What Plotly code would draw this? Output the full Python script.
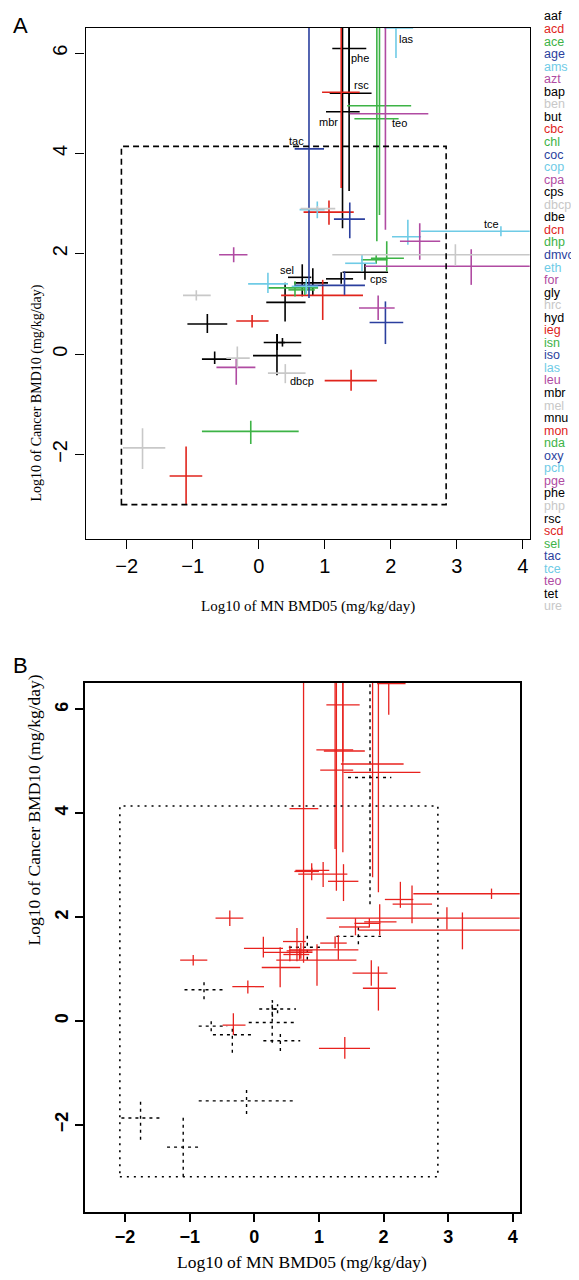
import plotly.graph_objects as go

W, H = 579, 1280

# ---------------- data ----------------
# crosses: centre (x, y), horizontal extent (xlo, xhi), vertical extent (ylo, yhi)
cross_x   = [0.762, 1.37, 1.37, 1.25, 1.27, 1.83, 1.79, 1.92, 2.08, 0.888,
             0.89, 1.065, 1.38, 3.67, 2.26, 2.44, 2.98, 3.22, -0.379, 1.94,
             1.78, 1.565, 1.61, 1.25, 1.30, 0.66, 0.82, 0.55, 0.70, 0.14,
             0.72, 0.97, 0.40, -0.945, -0.778, -0.10, 1.81, 1.92, 0.28, 0.36,
             0.277, -0.667, -0.324, -0.34, 0.403, 1.40, -0.12, -1.76, -1.10]
cross_xlo = [0.545, 1.115, 1.076, 0.96, 1.02, 1.34, 1.45, 1.38, 1.90, 0.62,
             0.636, 0.68, 1.14, 2.46, 2.02, 2.14, 1.115, 1.61, -0.60, 1.70,
             1.55, 1.31, 1.27, 1.02, 0.545, 0.444, 0.535, 0.14, 0.45, -0.16,
             0.50, 0.34, 0.115, -1.147, -1.08, -0.34, 1.52, 1.68, 0.076, 0.30,
             -0.086, -0.86, -0.49, -0.64, 0.14, 1.00, -0.86, -2.056, -1.35]
cross_xhi = [0.99, 1.63, 1.71, 1.53, 1.53, 2.31, 2.12, 2.57, 2.34, 1.00,
             1.16, 1.44, 1.61, 6.0, 2.46, 2.75, 6.0, 6.0, -0.17, 2.20,
             1.95, 1.78, 1.96, 1.43, 1.61, 0.797, 1.05, 0.90, 0.85, 0.444,
             0.90, 1.58, 0.71, -0.727, -0.476, 0.15, 2.06, 2.19, 0.645, 0.40,
             0.645, -0.42, -0.136, -0.05, 0.71, 1.79, 0.606, -1.415, -0.855]
cross_y   = [4.09, 6.09, 5.20, 5.22, 4.83, 4.95, 4.69, 4.79, 6.50, 2.88,
             2.90, 2.83, 2.69, 2.45, 2.34, 2.25, 1.98, 1.75, 1.98, 1.91,
             1.88, 1.81, 1.63, 1.50, 1.37, 1.53, 1.42, 1.32, 1.28, 1.40,
             1.35, 1.17, 1.03, 1.17, 0.60, 0.66, 0.92, 0.63, 0.23, 0.23,
             -0.03, -0.10, -0.08, -0.265, -0.38, -0.53, -1.54, -1.87, -2.43]
cross_ylo = [1.12, 5.00, 3.25, 3.31, 2.51, 2.77, 2.25, 2.48, 5.90, 2.71,
             2.85, 2.58, 2.31, 2.35, 2.18, 1.88, 1.76, 1.38, 1.83, 1.65,
             1.80, 1.65, 1.48, 1.40, 1.18, 1.15, 1.18, 1.15, 1.18, 1.22,
             1.20, 0.68, 0.65, 1.07, 0.42, 0.53, 0.68, 0.20, 0.08, 0.15,
             -0.42, -0.20, -0.27, -0.61, -0.58, -0.73, -1.79, -2.29, -3.00]
cross_yhi = [9.0, 9.0, 9.0, 9.0, 9.0, 9.0, 9.0, 9.0, 9.0, 3.04,
             2.95, 3.06, 3.02, 2.55, 2.68, 2.61, 2.19, 2.09, 2.13, 2.25,
             1.98, 1.98, 1.81, 1.63, 1.65, 1.79, 1.71, 1.45, 1.40, 1.62,
             1.50, 1.48, 1.42, 1.27, 0.80, 0.78, 1.17, 1.05, 0.40, 0.32,
             0.40, 0.05, 0.15, -0.09, -0.20, -0.31, -1.33, -1.48, -1.84]
# palette index of each cross (panel A colour)
cross_col = [3, 0, 0, 1, 0, 2, 2, 5, 4, 4,
             6, 1, 3, 4, 4, 5, 6, 5, 5, 2,
             2, 4, 0, 0, 3, 0, 0, 2, 2, 4,
             4, 1, 0, 6, 0, 1, 5, 3, 0, 0,
             0, 0, 6, 5, 6, 1, 2, 6, 1]
# panel B: 1 = red solid, 0 = black dotted
cross_pos = [1, 1, 1, 1, 1, 1, 0, 1, 1, 1,
             1, 1, 1, 1, 1, 1, 1, 1, 1, 1,
             1, 1, 0, 1, 1, 1, 0, 1, 1, 1,
             1, 1, 1, 1, 0, 1, 1, 1, 0, 0,
             0, 0, 1, 0, 0, 1, 0, 0, 0]

label_text  = ["las", "phe", "rsc", "mbr", "teo", "tac", "tce", "sel", "cps", "dbcp"]
label_cross = [8, 1, 2, 4, 7, 0, 13, 25, 22, 44]

legend_names = ["aaf", "acd", "ace", "age", "ams", "azt", "bap", "ben", "but", "cbc",
                "chl", "coc", "cop", "cpa", "cps", "dbcp", "dbe", "dcn", "dhp", "dmvc",
                "eth", "for", "gly", "hrc", "hyd", "ieg", "isn", "iso", "las", "leu",
                "mbr", "mel", "mnu", "mon", "nda", "oxy", "pch", "pge", "phe", "php",
                "rsc", "scd", "sel", "tac", "tce", "teo", "tet", "ure"]
legend_col = [0, 1, 2, 3, 4, 5, 0, 6, 0, 1,
              2, 3, 4, 5, 0, 6, 0, 1, 2, 3,
              4, 5, 0, 6, 0, 1, 2, 3, 4, 5,
              0, 6, 0, 1, 2, 3, 4, 5, 0, 6,
              0, 1, 2, 3, 4, 5, 0, 6]

x_ticks = [-2, -1, 0, 1, 2, 3, 4]
y_ticks = [-2, 0, 2, 4, 6]
x_range = [-2.624, 4.106]
y_range = [-3.68, 6.51]
box_x = [-2.08, 2.84]
box_y = [-3.0, 4.14]

# ---------------- styles ----------------
palette = ["#000000", "#e0241c", "#3db346", "#2b3f9e", "#6fcbe6", "#b04ba2", "#c8c8c8"]
RED_B = "#e8221e"


def segs(idx):
    xs, ys = [], []
    for i in idx:
        xs += [cross_xlo[i], cross_xhi[i], None, cross_x[i], cross_x[i], None]
        ys += [cross_y[i], cross_y[i], None, cross_ylo[i], cross_yhi[i], None]
    return xs, ys


fig = go.Figure()
# panel A
for c in range(len(palette)):
    idx = [i for i in range(len(cross_x)) if cross_col[i] == c]
    if not idx:
        continue
    xs, ys = segs(idx)
    fig.add_trace(go.Scatter(x=xs, y=ys, mode="lines", xaxis="x", yaxis="y",
                             line=dict(color=palette[c], width=1.6),
                             showlegend=False, hoverinfo="skip"))
# panel B
idx_neg = [i for i in range(len(cross_x)) if cross_pos[i] == 0]
idx_pos = [i for i in range(len(cross_x)) if cross_pos[i] == 1]
xs, ys = segs(idx_neg)
fig.add_trace(go.Scatter(x=xs, y=ys, mode="lines", xaxis="x2", yaxis="y2",
                         line=dict(color="#000000", width=1.4, dash="3px,4px"),
                         showlegend=False, hoverinfo="skip"))
xs, ys = segs(idx_pos)
fig.add_trace(go.Scatter(x=xs, y=ys, mode="lines", xaxis="x2", yaxis="y2",
                         line=dict(color=RED_B, width=1.3),
                         showlegend=False, hoverinfo="skip"))

domA_x = [77.5 / W, 521.7 / W]
domA_y = [1 - 530.7 / H, 1 - 19.5 / H]
domB_x = [76.7 / W, 511.7 / W]
domB_y = [1 - 1204 / H, 1 - 675 / H]

axis_common = dict(showline=True, linecolor="black", mirror=True, ticks="outside",
                   tickcolor="black", showgrid=False, zeroline=False, fixedrange=True)

fig.update_layout(
    width=W, height=H, margin=dict(l=0, r=0, t=0, b=0),
    plot_bgcolor="white", paper_bgcolor="white", showlegend=False,
    xaxis=dict(domain=domA_x, range=x_range, tickvals=x_ticks, ticklen=9, linewidth=1.3,
               tickwidth=1.3, anchor="y",
               tickfont=dict(family="Liberation Sans", size=20, color="black"), **axis_common),
    yaxis=dict(domain=domA_y, range=y_range, tickvals=y_ticks, ticklen=9, linewidth=1.3,
               tickwidth=1.3, anchor="x", tickangle=-90,
               tickfont=dict(family="Liberation Sans", size=20, color="black"), **axis_common),
    xaxis2=dict(domain=domB_x, range=x_range, tickvals=x_ticks, ticklen=8, linewidth=1.7,
                tickwidth=1.7, anchor="y2",
                tickfont=dict(family="Liberation Sans", size=18, color="black", weight="bold"),
                **axis_common),
    yaxis2=dict(domain=domB_y, range=y_range, tickvals=y_ticks, ticklen=8, linewidth=1.7,
                tickwidth=1.7, anchor="x2", tickangle=-90,
                tickfont=dict(family="Liberation Sans", size=18, color="black", weight="bold"),
                **axis_common),
)

# reference rectangles
fig.add_shape(type="rect", xref="x", yref="y", x0=box_x[0], x1=box_x[1], y0=box_y[0], y1=box_y[1],
              line=dict(color="black", width=1.6, dash="6px,4px"))
fig.add_shape(type="rect", xref="x2", yref="y2", x0=box_x[0], x1=box_x[1], y0=box_y[0], y1=box_y[1],
              line=dict(color="black", width=1.6, dash="2px,5px"))

ann = []
# chemical labels in panel A
label_shift = [(11, -11), (11, -9), (12, 8), (-14, -10), (14, -9), (-12, 8), (-9, 7), (-15, 7), (14, -7), (17, -8)]
for t, ci, (dx, dy) in zip(label_text, label_cross, label_shift):
    yv = min(cross_y[ci], y_range[1])
    ann.append(dict(x=cross_x[ci], y=yv, xref="x", yref="y", text=t, showarrow=False,
                    xshift=dx, yshift=dy, font=dict(family="Liberation Sans", size=11, color="black")))

# legend list
for k, (n, c) in enumerate(zip(legend_names, legend_col)):
    ann.append(dict(x=535 / W, y=1 - (8.5 + k * 12.55) / H, xref="paper", yref="paper", text=n,
                    showarrow=False, xanchor="left", yanchor="middle", borderpad=0,
                    font=dict(family="Liberation Sans", size=12.5, color=palette[c])))

# panel letters
ann.append(dict(x=3 / W, y=1 - 3 / H, xref="paper", yref="paper", text="A", showarrow=False,
                xanchor="left", yanchor="top", font=dict(family="Liberation Sans", size=22, color="black")))
ann.append(dict(x=3 / W, y=1 - 643 / H, xref="paper", yref="paper", text="B", showarrow=False,
                xanchor="left", yanchor="top", font=dict(family="Liberation Sans", size=22, color="black")))

# axis titles
ann.append(dict(x=300 / W, y=1 - 598 / H, xref="paper", yref="paper", text="Log10 of MN BMD05 (mg/kg/day)",
                showarrow=False, font=dict(family="Liberation Serif", size=15, color="black")))
ann.append(dict(x=18 / W, y=1 - 275 / H, xref="paper", yref="paper", text="Log10 of Cancer BMD10 (mg/kg/day)",
                showarrow=False, textangle=-90, font=dict(family="Liberation Serif", size=14, color="black")))
ann.append(dict(x=294 / W, y=1 - 1266 / H, xref="paper", yref="paper", text="Log10 of MN BMD05 (mg/kg/day)",
                showarrow=False, font=dict(family="Liberation Serif", size=17.5, color="black")))
ann.append(dict(x=13 / W, y=1 - 940 / H, xref="paper", yref="paper", text="Log10 of Cancer BMD10 (mg/kg/day)",
                showarrow=False, textangle=-90, font=dict(family="Liberation Serif", size=17.5, color="black")))

fig.update_layout(annotations=ann)
fig.write_html("out.html")
